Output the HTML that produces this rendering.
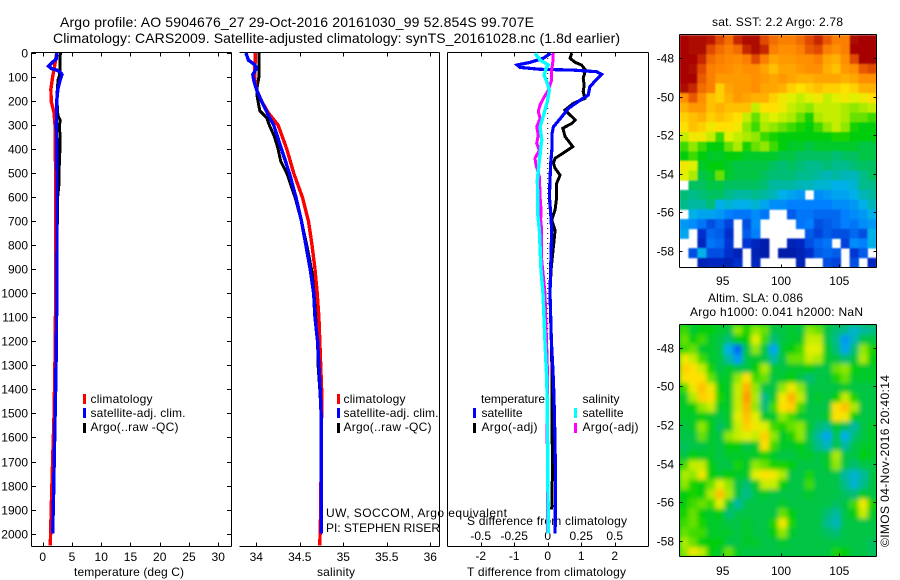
<!DOCTYPE html>
<html>
<head>
<meta charset="utf-8">
<title>Argo profile 5904676_27</title>
<style>
html,body{margin:0;padding:0;background:#fff;}
svg{display:block;font-family:"Liberation Sans",sans-serif;font-size:12px;fill:#000;}
</style>
</head>
<body>
<svg id="chart" width="900" height="580" viewBox="0 0 900 580" xmlns="http://www.w3.org/2000/svg">
<defs>
<clipPath id="clip-sst"><rect x="679.5" y="35" width="197" height="232.5"/></clipPath>
<clipPath id="clip-sla"><rect x="679.5" y="325" width="197" height="232"/></clipPath>
<filter id="soft" x="-5%" y="-5%" width="110%" height="110%"><feGaussianBlur stdDeviation="2.5"/></filter>
<filter id="soft-sst" x="-2%" y="-2%" width="104%" height="104%"><feGaussianBlur stdDeviation="0.9"/></filter>
</defs>
<text x="60" y="27" font-size="14" textLength="474">Argo profile: AO 5904676_27 29-Oct-2016 20161030_99 52.854S 99.707E</text>
<text x="53" y="43" font-size="14" textLength="567">Climatology: CARS2009. Satellite-adjusted climatology: synTS_20161028.nc (1.8d earlier)</text>
<text x="74" y="576" textLength="110">temperature (deg C)</text>
<text x="317" y="576" textLength="38">salinity</text>
<text x="467" y="576" textLength="159">T difference from climatology</text>
<text x="467" y="525" textLength="160">S difference from climatology</text>
<text x="326" y="517" textLength="181">UW, SOCCOM, Argo equivalent</text>
<text x="326" y="532" textLength="114">PI: STEPHEN RISER</text>
<text x="712" y="26" textLength="131">sat. SST: 2.2 Argo: 2.78</text>
<text x="708" y="302" textLength="95">Altim. SLA: 0.086</text>
<text x="690" y="316" textLength="173">Argo h1000: 0.041 h2000: NaN</text>
<text transform="translate(889,547) rotate(-90)" textLength="172">©IMOS 04-Nov-2016 20:40:14</text>
<g id="layer-maps"></g>
<g id="layer-axes"></g>
<g id="layer-lines"></g>
<g id="layer-legend"></g>
</svg>
<script>
// ---------- tick labels ----------
const depthTicks = [0,100,200,300,400,500,600,700,800,900,1000,1100,1200,1300,1400,1500,1600,1700,1800,1900,2000];
const tempTicks = [0,5,10,15,20,25,30];
const salTicks = [34,34.5,35,35.5,36];
const tDiffTicks = [-2,-1,0,1,2];
const sDiffTicks = [-0.5,-0.25,0,0.25,0.5];
const lonTicks = [95,100,105];
const latTicks = [-48,-50,-52,-54,-56,-58];

// ---------- temperature panel ----------
const tempArgoDepth = [0,50,90,110,150,200,260,280,300,350,400,440,500,540,600,700,800,1000,1130,1300,1500,1700,1800,1900];
const tempArgoValue = [3.0,2.95,2.9,2.65,2.5,2.45,2.6,3.0,2.85,2.95,2.95,2.85,2.8,2.8,2.55,2.5,2.45,2.4,2.4,2.2,1.95,1.85,1.7,1.7];
const tempClimDepth = [0,30,60,100,150,200,250,300,500,1000,1200,1500,1700,1900,2050];
const tempClimValue = [2.4,2.2,2.0,1.7,1.4,1.45,1.95,2.1,2.2,2.2,2.15,1.95,1.7,1.45,1.3];
const tempSatDepth = [0,25,40,55,65,72,80,90,110,150,200,300,500,800,1000,1200,1400,1650,1850,2000];
const tempSatValue = [2.45,2.3,1.6,1.0,1.5,2.5,3.0,3.3,3.0,2.6,2.4,2.35,2.45,2.45,2.4,2.35,2.2,2.0,1.85,1.7];

// ---------- salinity panel ----------
const salArgoDepth = [0,100,140,180,200,240,270,300,350,400,450,500,600,700,800,900,1000,1100,1200,1300,1400,1500];
const salArgoValue = [34.03,34.03,34.01,34.01,34.02,34.04,34.12,34.15,34.21,34.25,34.28,34.35,34.445,34.52,34.58,34.635,34.675,34.70,34.705,34.71,34.73,34.745];
const salClimDepth = [0,100,150,200,250,300,400,500,600,700,800,900,1000,1100,1200,1300,1400,1500,1900,2050];
const salClimValue = [33.99,33.98,34.0,34.06,34.14,34.25,34.35,34.43,34.53,34.6,34.64,34.675,34.70,34.72,34.73,34.74,34.75,34.75,34.74,34.73];
const salSatDepth = [0,30,50,65,90,120,160,200,260,300,400,500,600,700,800,900,1000,1100,1200,1300,1400,1500,2000];
const salSatValue = [33.88,33.91,33.985,34.0,33.96,33.975,34.01,34.06,34.14,34.2,34.29,34.38,34.455,34.52,34.57,34.62,34.66,34.675,34.705,34.72,34.735,34.745,34.745];

// ---------- difference panel ----------
const dTempSatDepth = [1,22,39,50,60,68,71,78,89,110,140,175,196,230,265,307,334,390,459,528,598,667,737,1000,1200,1361,1498,1722,1860,2000];
const dTempSatValue = [0.09,-0.13,-0.53,-0.91,-0.83,-0.23,0.77,1.46,1.61,1.46,1.26,1.21,0.97,0.62,0.42,0.17,0.13,0.13,0.09,0.07,0.05,0.09,0.12,0.07,0.11,0.17,0.2,0.23,0.23,0.22];
const dTempArgoDepth = [1,22,39,50,71,105,133,161,189,209,237,258,279,293,313,348,390,411,438,459,480,508,542,598,653,695,737,900,1000,1200,1361,1500,1750,1900];
const dTempArgoValue = [0.72,0.67,0.82,1.01,1.13,1.06,1.09,1.06,1.11,0.77,0.52,0.67,0.82,0.72,0.45,0.52,0.75,0.52,0.22,0.17,0.22,0.37,0.27,0.27,0.22,0.12,0.22,0.1,0.07,0.11,0.13,0.13,0.14,0.12];
const dSalSatDepth = [1,29,50,64,92,119,154,202,251,307,362,459,528,598,667,737,900,1000,1200,1361,1500,1722,2000];
const dSalSatValue = [-0.095,-0.057,0.005,-0.012,-0.027,-0.007,0.012,-0.002,-0.027,-0.057,-0.045,-0.065,-0.077,-0.075,-0.075,-0.062,-0.05,-0.035,-0.02,-0.007,-0.002,0,0.005];
const dSalArgoDepth = [1,43,71,112,154,189,216,244,272,307,341,376,404,438,466,515,598,653,695,737,860,1000,1361,1500,1700,2000];
const dSalArgoValue = [0.042,0.037,0.03,0.03,0.005,-0.032,-0.057,-0.07,-0.057,-0.082,-0.07,-0.082,-0.062,-0.095,-0.087,-0.062,-0.057,-0.05,-0.052,-0.045,-0.045,-0.02,0,-0.005,-0.002,0];

// ---------- map grids (colour index 0-100, null = no data) ----------
const sstGrid = [
[97,96,96,95,92,88,94,96,96,92,88,86,86,88,92,94,90,86,86,96,98,98],
[97,96,96,92,88,86,88,94,96,94,86,84,84,86,90,92,86,84,86,97,98,98],
[97,97,94,88,86,85,84,86,92,86,80,82,82,84,84,86,80,78,84,92,98,98],
[97,96,92,86,85,84,82,84,84,80,76,80,80,82,84,84,78,76,82,84,90,92],
[97,97,90,86,82,82,82,82,84,82,80,82,80,78,78,80,80,80,78,80,84,84],
[96,94,88,86,74,80,82,82,84,80,80,78,74,72,74,76,74,74,72,74,78,78],
[84,90,84,76,74,78,82,80,78,78,74,70,68,66,68,70,66,68,70,68,70,72],
[78,82,82,76,78,76,76,76,66,72,72,70,66,64,62,66,66,66,64,62,64,66],
[74,76,78,74,76,74,72,66,60,66,68,66,64,60,56,64,66,66,64,60,60,58],
[72,76,74,70,72,72,70,62,58,64,62,60,58,56,54,58,62,66,62,56,54,54],
[66,70,70,66,58,68,66,64,62,58,56,54,54,54,54,54,54,56,56,54,54,54],
[58,62,58,54,54,60,64,56,60,62,58,54,52,52,50,52,52,52,52,52,50,50],
[54,58,54,52,52,54,54,52,52,52,52,50,50,48,48,48,48,46,48,48,50,50],
[70,68,52,54,54,52,50,50,50,50,48,46,48,46,44,44,46,44,44,46,48,48],
[68,64,50,52,60,52,50,50,50,48,46,46,46,44,44,42,40,42,40,40,44,48],
[null,48,48,50,50,48,48,48,48,46,42,42,42,40,40,38,38,36,36,38,44,44],
[46,44,46,48,48,44,42,42,44,42,40,36,34,32,null,30,32,34,34,36,40,42],
[44,42,42,46,36,38,36,36,38,34,30,30,28,28,28,28,28,30,30,32,36,40],
[null,36,34,34,32,28,26,26,30,26,null,null,22,26,26,24,24,24,28,30,32,36],
[32,30,26,20,24,18,null,20,30,null,null,null,null,26,28,20,22,24,28,26,30,32],
[34,null,14,24,22,14,null,22,28,null,null,null,null,null,22,18,22,20,20,24,20,36],
[null,null,12,26,24,16,null,16,12,8,null,null,10,12,20,24,26,null,18,30,28,36],
[null,20,36,20,20,14,10,null,10,8,null,8,8,10,14,22,24,22,null,16,22,null],
[null,null,10,12,12,10,14,null,12,null,null,null,null,10,null,null,20,18,null,20,null,12]
];
const slaGrid = [
[58,52,54,54,52,50,62,56,62,60,50,50,52,50,62,60,50,46,44,38,42,44],
[60,54,58,52,50,46,54,54,68,58,46,50,52,52,66,66,50,44,32,40,50,50],
[58,60,52,52,50,36,24,50,62,50,34,52,54,58,68,68,52,46,34,46,62,56],
[70,66,58,52,50,42,32,50,52,50,42,50,60,60,66,64,52,50,46,50,64,54],
[74,72,66,56,50,52,50,50,54,64,52,50,52,52,54,50,50,60,62,54,52,52],
[72,72,72,60,52,52,62,72,58,60,50,52,54,50,46,50,50,56,60,52,52,52],
[58,70,76,70,54,52,66,78,62,50,50,62,70,62,50,50,50,50,52,50,50,50],
[52,64,74,72,56,52,66,82,64,44,52,70,78,66,50,52,50,54,66,56,50,50],
[52,54,62,66,52,52,66,78,62,46,58,72,74,58,50,50,50,72,76,64,50,50],
[52,52,54,52,50,52,68,76,68,52,52,62,58,52,50,50,52,72,70,54,50,50],
[50,52,62,54,48,52,66,74,70,68,58,56,60,62,52,46,44,52,48,42,50,52],
[50,50,60,52,50,62,66,68,66,74,62,52,56,62,50,42,34,50,36,46,50,52],
[48,50,50,52,50,54,54,50,52,72,58,52,52,54,50,44,40,50,42,50,52,52],
[50,54,52,52,50,52,52,52,52,56,52,50,50,52,52,50,52,64,50,50,54,52],
[58,66,66,54,50,50,56,52,62,60,56,56,54,50,50,50,52,62,50,46,50,50],
[64,62,70,54,52,54,52,52,68,72,70,64,50,50,56,50,50,50,42,38,42,50],
[62,56,54,60,68,62,50,46,52,66,66,54,50,50,58,50,50,50,44,38,44,50],
[54,56,54,64,76,64,50,44,50,52,50,50,50,50,52,50,50,50,48,46,52,50],
[54,58,60,58,68,52,42,50,50,50,50,52,50,50,50,50,50,48,50,58,70,56],
[56,60,54,52,54,46,50,50,50,50,50,60,54,50,50,50,46,42,50,54,66,52],
[58,60,56,52,52,50,50,52,50,50,56,70,56,50,50,50,44,40,50,50,50,50],
[60,58,58,52,52,52,50,52,50,50,54,62,52,50,50,50,48,46,50,50,50,50],
[64,60,54,54,54,50,50,52,52,50,50,52,50,50,50,50,50,50,50,50,50,48],
[62,70,66,54,52,60,52,50,50,50,50,50,50,50,50,50,50,56,54,50,50,48]
];

// ---------- axis functions ----------
function yDepth(d){return 53+d*0.2403;}
function xTemp(t){return 42.7+t*5.85;}
function xSal(s){return 256.3+(s-34)*87;}
function xTDiff(t){return 547.7+t*33.5;}
function xSDiff(s){return 547.7+s*134;}
function xLon(l){return 722.7+(l-95)*11.66;}
function yLatSst(l){return 58+(-48-l)*19.3;}
function yLatSla(l){return 347.7+(-48-l)*19.33;}
function colX(i,n){return 679.5+197*i/n;}

const NS='http://www.w3.org/2000/svg';
const axes=document.getElementById('layer-axes');
const lines=document.getElementById('layer-lines');
const legend=document.getElementById('layer-legend');
const maps=document.getElementById('layer-maps');

function shape(parent,tag){
  const e=document.createElementNS(NS,tag);
  parent.appendChild(e);
  return e;
}
function stroke(x1,y1,x2,y2){
  const l=shape(axes,'line');
  l.setAttribute('x1',x1);l.setAttribute('y1',y1);l.setAttribute('x2',x2);l.setAttribute('y2',y2);
  l.setAttribute('stroke','#000');l.setAttribute('stroke-width','1');
  l.setAttribute('shape-rendering','crispEdges');
  return l;
}
function axisLine(x1,y1,x2,y2){
  const l=stroke(x1,y1,x2,y2);
  
  
}
function tickMark(x1,y1,x2,y2){
  const l=stroke(x1,y1,x2,y2);
  
  
}
function tickLabel(str,x,y,anchor){
  const t=shape(axes,'text');
  
  
  t.setAttribute('x',x);t.setAttribute('y',y);t.setAttribute('text-anchor',anchor);
  t.textContent=str;
}
function polyline(name,color,width,depths,values,xf){
  const p=shape(lines,'polyline');
  
  
  p.setAttribute('points',depths.map(function(d,i){return xf(values[i]).toFixed(1)+','+yDepth(d).toFixed(1);}).join(' '));
  p.setAttribute('fill','none');
  p.setAttribute('stroke',color);
  p.setAttribute('stroke-width',width);
  p.setAttribute('shape-rendering','crispEdges');
}

// ---------- profile panel frames ----------
const top0=52.5, bot0=546.5;
[[31.5,231.5],[239.5,439.5],[447.5,648.5]].forEach(function(p,idx){
  axisLine(p[0],top0,p[1],top0);
  axisLine(p[0],bot0,p[1],bot0);
  axisLine(p[1],top0,p[1],bot0);
  if(idx!==1){axisLine(p[0],top0,p[0],bot0);}
});
depthTicks.forEach(function(d){
  const y=Math.round(yDepth(d))+0.5;
  tickMark(31.5,y,36,y);
  tickMark(227,y,231.5,y);
  tickLabel(String(d),28,y+4,'end');
});
tempTicks.forEach(function(t){
  const x=Math.round(xTemp(t))+0.5;
  tickMark(x,top0,x,top0+4);tickMark(x,bot0,x,bot0-4);
  tickLabel(String(t),xTemp(t),561,'middle');
});
salTicks.forEach(function(s){
  const x=Math.round(xSal(s))+0.5;
  tickMark(x,top0,x,top0+4);tickMark(x,bot0,x,bot0-4);
  tickLabel(String(s),xSal(s),561,'middle');
});
tDiffTicks.forEach(function(t){
  const x=Math.round(xTDiff(t))+0.5;
  tickMark(x,top0,x,top0+4);tickMark(x,bot0,x,bot0-4);
  tickLabel(String(t),xTDiff(t),560,'middle');
});
sDiffTicks.forEach(function(s){
  tickLabel(String(s),xSDiff(s),540,'middle');
});

// zero reference line
const zeroLine=shape(lines,'line');


zeroLine.setAttribute('x1',xTDiff(0));zeroLine.setAttribute('x2',xTDiff(0));
zeroLine.setAttribute('y1',yDepth(0));zeroLine.setAttribute('y2',yDepth(1950));
zeroLine.setAttribute('stroke','#000');zeroLine.setAttribute('stroke-dasharray','1 4');

// ---------- profile lines ----------
polyline('temperature-argo-line','#000',3,tempArgoDepth,tempArgoValue,xTemp);
polyline('temperature-climatology-line','#f00',3.4,tempClimDepth,tempClimValue,xTemp);
polyline('temperature-satellite-line','#00f',3.4,tempSatDepth,tempSatValue,xTemp);
polyline('salinity-argo-line','#000',3,salArgoDepth,salArgoValue,xSal);
polyline('salinity-climatology-line','#f00',3.4,salClimDepth,salClimValue,xSal);
polyline('salinity-satellite-line','#00f',3.4,salSatDepth,salSatValue,xSal);
polyline('t-diff-argo-line','#000',3,dTempArgoDepth,dTempArgoValue,xTDiff);
polyline('t-diff-satellite-line','#00f',3.2,dTempSatDepth,dTempSatValue,xTDiff);
polyline('s-diff-argo-line','#f0f',3,dSalArgoDepth,dSalArgoValue,xSDiff);
polyline('s-diff-satellite-line','#0ff',3.4,dSalSatDepth,dSalSatValue,xSDiff);

// ---------- legends ----------
function legendEntry(swatchX,textX,swatchY,textY,color,label,len){
  const r=shape(legend,'rect');
  
  
  r.setAttribute('x',swatchX);r.setAttribute('y',swatchY);
  r.setAttribute('width',3);r.setAttribute('height',10);
  r.setAttribute('fill',color);
  const t=shape(legend,'text');
  
  
  t.setAttribute('x',textX);t.setAttribute('y',textY);
  t.setAttribute('textLength',len);
  t.textContent=label;
}
function legendHeader(x,y,label,len){
  const t=shape(legend,'text');
  
  
  t.setAttribute('x',x);t.setAttribute('y',y);
  t.setAttribute('textLength',len);
  t.textContent=label;
}
[[83,90.5],[337,343.5]].forEach(function(c){
  legendEntry(c[0],c[1],394,403,'#f00','climatology',62);
  legendEntry(c[0],c[1],408,417,'#00f','satellite-adj. clim.',95);
  legendEntry(c[0],c[1],423,431,'#000','Argo(..raw -QC)',88);
});
legendHeader(481,403,'temperature',64);
legendEntry(473,481.5,408,417,'#00f','satellite',41);
legendEntry(473,481.5,423,431,'#000','Argo(-adj)',56);
legendHeader(582.5,403,'salinity',37);
legendEntry(574,582.5,408,417,'#0ff','satellite',41);
legendEntry(574,582.5,423,431,'#f0f','Argo(-adj)',56);

// ---------- maps ----------
const colorStops=[[0,0,0,128],[15,0,48,208],[28,0,128,255],[36,0,176,232],[42,0,184,160],[48,0,192,96],[55,0,208,0],[62,144,232,0],[68,224,240,0],[72,255,224,0],[78,255,176,0],[85,255,136,0],[92,224,72,0],[96,172,8,0],[100,160,0,0]];
function colorOf(v){
  for(let i=1;i<colorStops.length;i++){
    const a=colorStops[i-1],b=colorStops[i];
    if(v<=b[0]){
      const f=(v-a[0])/(b[0]-a[0]);
      return 'rgb('+Math.round(a[1]+f*(b[1]-a[1]))+','+Math.round(a[2]+f*(b[2]-a[2]))+','+Math.round(a[3]+f*(b[3]-a[3]))+')';
    }
  }
  return 'rgb(160,0,0)';
}
function drawGrid(parent,grid,top,height,cellName){
  const nr=grid.length,nc=grid[0].length;
  grid.forEach(function(row,r){
    row.forEach(function(v,c){
      if(v===null){return;}
      const cell=shape(parent,'rect');
      
      
      cell.setAttribute('x',colX(c,nc).toFixed(2));
      cell.setAttribute('y',(top+height*r/nr).toFixed(2));
      cell.setAttribute('width',(197/nc+0.4).toFixed(2));
      cell.setAttribute('height',(height/nr+0.4).toFixed(2));
      cell.setAttribute('fill',colorOf(v));
    });
  });
}
const sstClip=shape(maps,'g');
sstClip.setAttribute('clip-path','url(#clip-sst)');


const sstBlur=shape(sstClip,'g');
sstBlur.setAttribute('filter','url(#soft-sst)');


drawGrid(sstBlur,sstGrid,35,232.5,'sst-cell');

const slaClip=shape(maps,'g');
slaClip.setAttribute('clip-path','url(#clip-sla)');


const slaBack=shape(slaClip,'rect');


slaBack.setAttribute('x',679);slaBack.setAttribute('y',325);
slaBack.setAttribute('width',198);slaBack.setAttribute('height',232);
slaBack.setAttribute('fill',colorOf(52));
const slaBlur=shape(slaClip,'g');
slaBlur.setAttribute('filter','url(#soft)');


drawGrid(slaBlur,slaGrid,325,232,'sla-cell');

function mapFrame(top,bottom,latFn,lonY){
  axisLine(679.5,top,876.5,top);
  axisLine(679.5,bottom,876.5,bottom);
  axisLine(679.5,top,679.5,bottom);
  axisLine(876.5,top,876.5,bottom);
  lonTicks.forEach(function(l){
    const x=Math.round(xLon(l))+0.5;
    tickMark(x,top,x,top+3);tickMark(x,bottom,x,bottom-3);
    tickLabel(String(l),xLon(l),lonY,'middle');
  });
  latTicks.forEach(function(l){
    const y=Math.round(latFn(l))+0.5;
    tickMark(679.5,y,682.5,y);tickMark(876.5,y,873.5,y);
    tickLabel(String(l),674,y+4,'end');
  });
}
mapFrame(34.5,267.5,yLatSst,285);
mapFrame(324.5,556.5,yLatSla,575);
</script>
</body>
</html>
